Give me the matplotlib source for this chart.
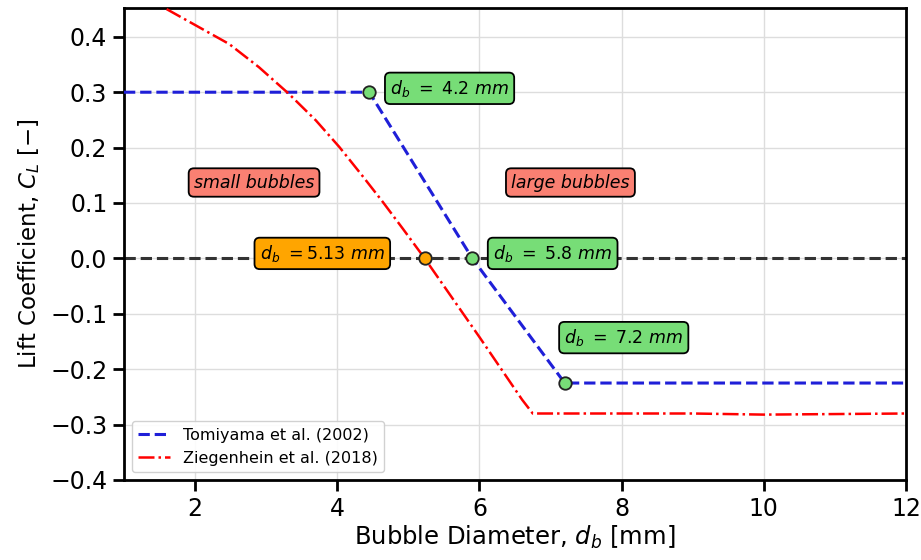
import numpy as np
import matplotlib
matplotlib.use('Agg')
import matplotlib.pyplot as plt

# Tomiyama et al. (2002) - piecewise
tomi_x = [1.0, 4.45, 5.9, 7.2, 12.0]
tomi_y = [0.3, 0.3, 0.0, -0.225, -0.225]

# Ziegenhein et al. (2018)
zieg_x = [1.6, 2.48, 2.9, 3.32, 3.7, 4.03, 4.36, 4.64, 4.92, 5.23, 6.0, 6.6, 6.75, 9.0, 10.0, 12.0]
zieg_y = [0.45, 0.387, 0.345, 0.297, 0.249, 0.201, 0.148, 0.102, 0.054, 0.0, -0.142, -0.255,
          -0.28, -0.28, -0.282, -0.28]

# marked points
green_x = [4.45, 5.9, 7.2]
green_y = [0.3, 0.0, -0.225]
orange_x = [5.23]
orange_y = [0.0]

green_labels = [r'$d_b\ =\ 4.2\ mm$', r'$d_b\ =\ 5.8\ mm$', r'$d_b\ =\ 7.2\ mm$']
green_pos = [(5.58, 0.307), (7.03, 0.009), (8.03, -0.143)]
orange_label = r'$d_b\ =5.13\ mm$'
orange_pos = (3.79, 0.009)

fig = plt.figure(figsize=(9.21, 5.6), dpi=100)
ax = fig.add_axes([0.1346, 0.1429, 0.8491, 0.8428])

ax.grid(True, color='#dddddd', linewidth=1)
ax.set_axisbelow(True)

ax.axhline(0, color='#333333', linestyle='--', linewidth=2.2, zorder=2)
ax.plot(tomi_x, tomi_y, color='#1f1fd8', linestyle='--', linewidth=2.2,
        label='Tomiyama et al. (2002)', zorder=3)
ax.plot(zieg_x, zieg_y, color='red', linestyle='-.', linewidth=1.8,
        label='Ziegenhein et al. (2018)', zorder=3)

ax.plot(green_x, green_y, 'o', markersize=9, markerfacecolor='#77dd77',
        markeredgecolor='#222222', markeredgewidth=1.3, linestyle='none', zorder=5)
ax.plot(orange_x, orange_y, 'o', markersize=9, markerfacecolor='orange',
        markeredgecolor='#222222', markeredgewidth=1.3, linestyle='none', zorder=5)

green_box = dict(boxstyle='round,pad=0.3', facecolor='#77dd77', edgecolor='black', linewidth=1.3)
orange_box = dict(boxstyle='round,pad=0.3', facecolor='orange', edgecolor='black', linewidth=1.3)
red_box = dict(boxstyle='round,pad=0.3', facecolor='#fa8072', edgecolor='black', linewidth=1.3)

for lab, (px, py) in zip(green_labels, green_pos):
    ax.text(px, py, lab, fontsize=12.5, ha='center', va='center', bbox=green_box, zorder=6)
ax.text(orange_pos[0], orange_pos[1], orange_label, fontsize=12.5, ha='center', va='center',
        bbox=orange_box, zorder=6)
ax.text(2.83, 0.137, 'small bubbles', fontsize=12.5, style='italic', ha='center', va='center',
        bbox=red_box, zorder=6)
ax.text(7.28, 0.137, 'large bubbles', fontsize=12.5, style='italic', ha='center', va='center',
        bbox=red_box, zorder=6)

ax.set_xlim(1, 12)
ax.set_ylim(-0.4, 0.452)
ax.set_xticks([2, 4, 6, 8, 10, 12])
ax.set_yticks(np.arange(-0.4, 0.41, 0.1))
ax.set_xlabel(r'Bubble Diameter, $d_b$ [mm]', fontsize=17.5, labelpad=2)
ax.set_ylabel(r'Lift Coefficient, $C_L$ [$-$]', fontsize=16.5, labelpad=6)
ax.tick_params(labelsize=17, width=2, length=8, pad=4)
for s in ax.spines.values():
    s.set_linewidth(2)

ax.legend(loc='lower left', fontsize=11.5, framealpha=0.9)

fig.savefig('out.png', dpi=100)
